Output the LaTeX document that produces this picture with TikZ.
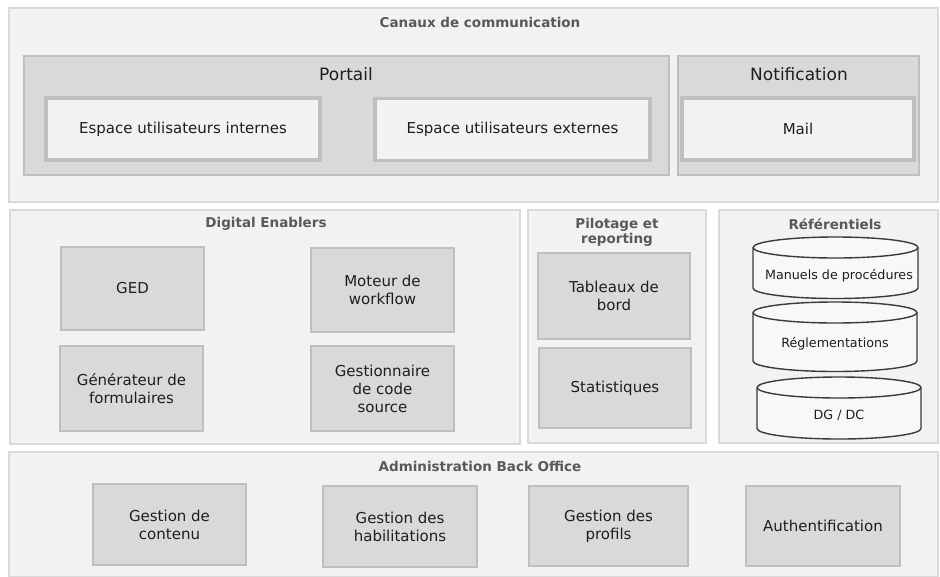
\documentclass[tikz,border=0pt]{standalone}
\usepackage{fontspec}
\setmainfont{DejaVu Sans}
\definecolor{panelfill}{HTML}{F2F2F2}
\definecolor{panelline}{HTML}{DADADA}
\definecolor{grayfill}{HTML}{D9D9D9}
\definecolor{grayline}{HTML}{BFBFBF}
\definecolor{titlecol}{HTML}{595959}
\definecolor{textcol}{HTML}{1E1E1E}
\definecolor{cylline}{HTML}{3A3A3A}
\definecolor{cylfill}{HTML}{F8F8F8}
\tikzset{
  panel/.style={draw=panelline, fill=panelfill, line width=1.5pt, inner sep=0pt, outer sep=0pt},
  graybox/.style={draw=grayline, fill=grayfill, line width=1.5pt, inner sep=0pt, outer sep=0pt,
    align=center, text=textcol, font=\fontsize{15}{18}\selectfont},
  whitebox/.style={draw=grayline, fill=panelfill, line width=3.5pt, inner sep=0pt, outer sep=0pt,
    align=center, text=textcol, font=\fontsize{15}{18}\selectfont},
  ptitle/.style={text=titlecol, font=\bfseries\fontsize{13.5}{15}\selectfont, align=center, inner sep=0pt},
  htitle/.style={text=textcol, font=\fontsize{17}{20}\selectfont, inner sep=0pt},
  cyl/.style={draw=cylline, fill=cylfill, line width=1.4pt},
  cyltext/.style={text=textcol, font=\fontsize{12.7}{15}\selectfont, inner sep=0pt}
}
\begin{document}
\begin{tikzpicture}[x=1pt,y=-1pt]
\useasboundingbox (0,0) rectangle (940,576);
% panels
\node[panel, minimum width=929pt, minimum height=194pt] (canaux) at (473.5,105) {};
\node[panel, minimum width=510pt, minimum height=234pt] (digital) at (265,327) {};
\node[panel, minimum width=178pt, minimum height=233pt] (pilot) at (617,326.5) {};
\node[panel, minimum width=219pt, minimum height=233pt] (refs) at (828.5,326.5) {};
\node[panel, minimum width=929pt, minimum height=125pt] (admin) at (473.5,514.5) {};
% titles
\node[ptitle] (tcanaux) at (480,22) {Canaux de communication};
\node[ptitle] (tdigital) at (266,224) {Digital Enablers};
\node[ptitle] (tpilot) at (617,232) {Pilotage et\\reporting};
\node[ptitle] (trefs) at (835,224) {Référentiels};
\node[ptitle] (tadmin) at (480,466) {Administration Back Office};
% Canaux
\node[graybox, minimum width=645pt, minimum height=119pt] (portail) at (346.5,115.5) {};
\node[graybox, minimum width=241pt, minimum height=119pt] (notif) at (798.5,115.5) {};
\node[htitle] (tportail) at (346,74) {Portail};
\node[htitle] (tnotif) at (799,74) {Notification};
\node[whitebox, minimum width=274pt, minimum height=62pt] (espint) at (183,129) {Espace utilisateurs internes};
\node[whitebox, minimum width=275pt, minimum height=62pt] (espext) at (512.5,129.5) {Espace utilisateurs externes};
\node[whitebox, minimum width=232pt, minimum height=62pt] (mail) at (798,129) {Mail};
% Digital enablers
\node[graybox, minimum width=143pt, minimum height=83pt] (ged) at (132.5,288.5) {GED};
\node[graybox, minimum width=143pt, minimum height=84pt] (moteur) at (382.5,290) {Moteur de\\workflow};
\node[graybox, minimum width=143pt, minimum height=85pt] (gen) at (131.5,388.5) {Générateur de\\formulaires};
\node[graybox, minimum width=143pt, minimum height=85pt] (gcode) at (382.5,388.5) {Gestionnaire\\de code\\source};
% Pilotage
\node[graybox, minimum width=152pt, minimum height=86pt] (tab) at (614,296) {Tableaux de\\bord};
\node[graybox, minimum width=152pt, minimum height=80pt] (stat) at (615,388) {Statistiques};
% Referentiels cylinders
\draw[cyl] (753,247.5) -- (753,288) arc[start angle=180,end angle=360,x radius=82.5pt,y radius=10.5pt] -- (918,247.5) arc[start angle=0,end angle=180,x radius=82.5pt,y radius=10.5pt] -- cycle;
\draw[cyl, fill=none] (753,247.5) arc[start angle=180,end angle=360,x radius=82.5pt,y radius=10.5pt];
\node[cyltext] (man) at (839,276) {Manuels de procédures};
\draw[cyl] (753,312.5) -- (753,361) arc[start angle=180,end angle=360,x radius=82pt,y radius=10.5pt] -- (917,312.5) arc[start angle=0,end angle=180,x radius=82pt,y radius=10.5pt] -- cycle;
\draw[cyl, fill=none] (753,312.5) arc[start angle=180,end angle=360,x radius=82pt,y radius=10.5pt];
\node[cyltext] (regl) at (835,344) {Réglementations};
\draw[cyl] (757,387.5) -- (757,428.5) arc[start angle=180,end angle=360,x radius=82pt,y radius=10.5pt] -- (921,387.5) arc[start angle=0,end angle=180,x radius=82pt,y radius=10.5pt] -- cycle;
\draw[cyl, fill=none] (757,387.5) arc[start angle=180,end angle=360,x radius=82pt,y radius=10.5pt];
\node[cyltext] (dgdc) at (839,415) {DG / DC};
% Admin
\node[graybox, minimum width=153pt, minimum height=81pt] (gc) at (169.5,524.5) {Gestion de\\contenu};
\node[graybox, minimum width=154pt, minimum height=81pt] (gh) at (400,526.5) {Gestion des\\habilitations};
\node[graybox, minimum width=159pt, minimum height=80pt] (gp) at (608.5,526) {Gestion des\\profils};
\node[graybox, minimum width=154pt, minimum height=80pt] (auth) at (823,526) {Authentification};
\end{tikzpicture}
\end{document}
